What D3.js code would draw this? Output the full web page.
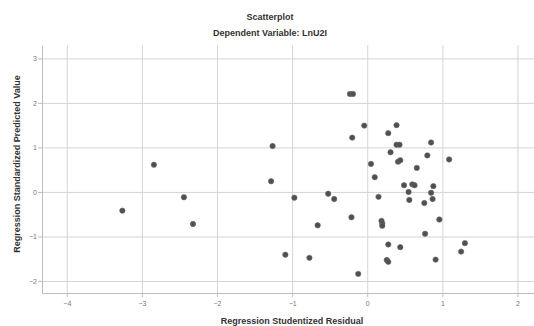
<!DOCTYPE html>
<html>
<head>
<meta charset="utf-8">
<script src="https://cdn.jsdelivr.net/npm/d3@7"></script>
<style>
  body { margin: 0; background: #fff; }
  svg { display: block; font-family: "Liberation Sans", Arial, sans-serif; }
</style>
</head>
<body>
<div class="chart_area"></div>
<script>
// residuals (x) and predicted values (y)
var residual = [-3.26, -2.84, -2.44, -2.32, -1.26, -1.28, -0.23, -0.19, -0.04, 0.39,
                0.28, -0.20, 0.85, 0.39, 0.43, 0.31, 0.80, 1.09, 0.41, 0.44,
                0.05, 0.66, 0.10, 0.49, 0.60, 0.63, 0.88, 0.55, 0.85, -0.97,
                -0.52, -0.44, 0.15, 0.56, 0.87, 0.76, -0.21, 0.96, 0.19, 0.20,
                0.20, -0.66, 0.77, 0.28, 0.44, 1.30, 1.25, -1.09, -0.77, 0.26,
                0.28, 0.91, -0.12];
var predicted = [-0.42, 0.61, -0.12, -0.72, 1.03, 0.24, 2.20, 2.20, 1.49, 1.50,
                 1.32, 1.22, 1.11, 1.06, 1.06, 0.89, 0.82, 0.73, 0.68, 0.71,
                 0.63, 0.54, 0.33, 0.15, 0.17, 0.15, 0.13, 0.00, -0.02, -0.13,
                 -0.04, -0.16, -0.11, -0.18, -0.16, -0.25, -0.57, -0.62, -0.65, -0.71,
                 -0.76, -0.75, -0.94, -1.18, -1.24, -1.15, -1.34, -1.41, -1.48, -1.53,
                 -1.57, -1.52, -1.84];
var xTicks = [-4, -3, -2, -1, 0, 1, 2];
var yTicks = [-2, -1, 0, 1, 2, 3];

var W = 534, H = 326;
var margin = {top: 45, right: -6, bottom: 33, left: 42},
    width = W - margin.left - margin.right,
    height = H - margin.top - margin.bottom;

var svg = d3.select(".chart_area").append("svg")
    .attr("width", W)
    .attr("height", H);

var g = svg.append("g")
    .attr("transform", "translate(" + margin.left + "," + margin.top + ")");

var x = d3.scaleLinear().domain([-4.33, 2.3]).range([0, width]);
var y = d3.scaleLinear().domain([-2.27, 3.3]).range([height, 0]);

// grid lines
g.append("g")
    .attr("transform", "translate(0," + height + ")")
    .call(d3.axisBottom(x).tickValues(xTicks).tickSize(-height).tickFormat(""))
    .call(a => a.select(".domain").remove())
    .selectAll("line").style("stroke", "#d4d4d4");

g.append("g")
    .call(d3.axisLeft(y).tickValues(yTicks).tickSize(-width).tickFormat(""))
    .call(a => a.select(".domain").remove())
    .selectAll("line").style("stroke", "#d4d4d4");

// axes with labels
var xAxis = g.append("g")
    .attr("transform", "translate(0," + height + ")")
    .call(d3.axisBottom(x).tickValues(xTicks).tickSize(4).tickSizeOuter(0).tickFormat(d3.format("d")));
var yAxis = g.append("g")
    .call(d3.axisLeft(y).tickValues(yTicks).tickSize(4).tickSizeOuter(0).tickFormat(d3.format("d")));

svg.selectAll(".domain").style("stroke", "#bdbdbd");
xAxis.selectAll("line").style("stroke", "#bdbdbd");
yAxis.selectAll("line").style("stroke", "#bdbdbd");
svg.selectAll(".tick text")
    .style("font-size", "7px")
    .style("fill", "#777")
    .style("font-family", "Liberation Sans, Arial, sans-serif");
xAxis.selectAll("text").attr("dy", "0.9em");
yAxis.selectAll("text").attr("x", -5);

// points
g.selectAll("circle")
    .data(residual)
  .enter().append("circle")
    .attr("cx", (d, i) => x(d))
    .attr("cy", (d, i) => y(predicted[i]))
    .attr("r", 2.7)
    .attr("fill", "#505050")
    .attr("stroke", "#6a6a6a")
    .attr("stroke-width", 0.6);

// titles
svg.append("text")
    .attr("x", 270).attr("y", 20)
    .attr("text-anchor", "middle")
    .style("font-size", "9px").style("font-weight", "bold").style("fill", "#333")
    .text("Scatterplot");
svg.append("text")
    .attr("x", 270).attr("y", 36)
    .attr("text-anchor", "middle")
    .style("font-size", "9px").style("font-weight", "bold").style("fill", "#333")
    .text("Dependent Variable: LnU2I");
svg.append("text")
    .attr("x", 292).attr("y", 324)
    .attr("text-anchor", "middle")
    .style("font-size", "9px").style("font-weight", "bold").style("fill", "#333")
    .text("Regression Studentized Residual");
svg.append("text")
    .attr("transform", "translate(20,164) rotate(-90)")
    .attr("text-anchor", "middle")
    .style("font-size", "9px").style("font-weight", "bold").style("fill", "#333")
    .text("Regression Standardized Predicted Value");
</script>
</body>
</html>
